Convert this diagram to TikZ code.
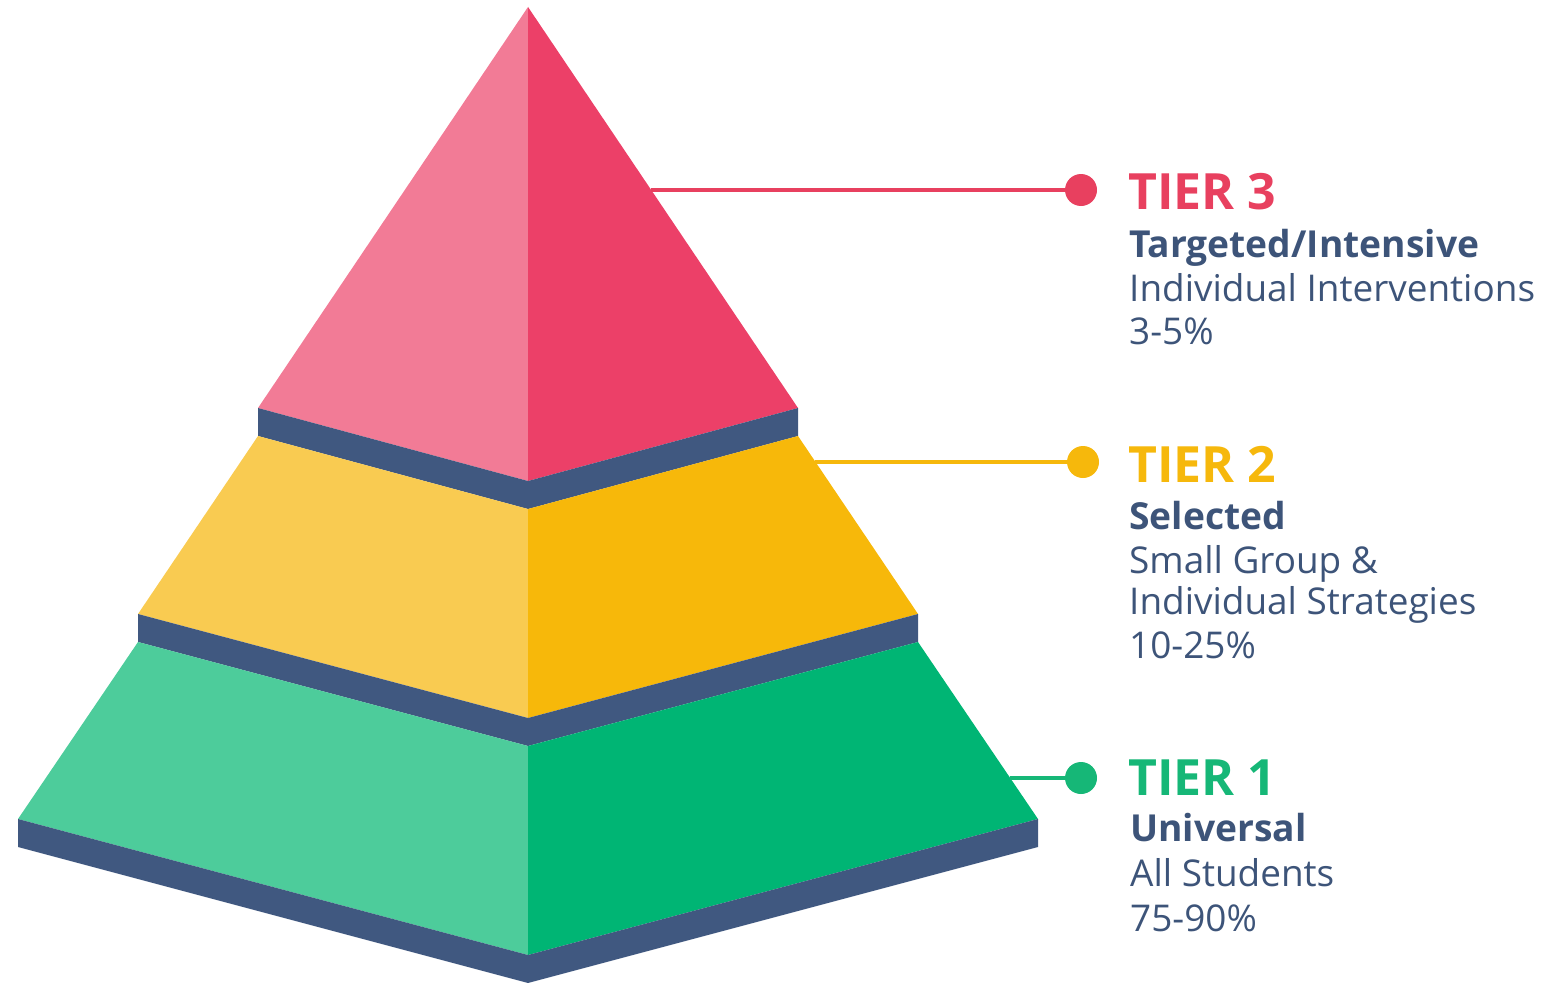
\documentclass[tikz,border=0pt]{standalone}
\usepackage{fontspec}
\setmainfont{Open Sans}
\definecolor{pinkL}{HTML}{F27B96}
\definecolor{pinkR}{HTML}{EC4068}
\definecolor{yelL}{HTML}{F9CB51}
\definecolor{yelR}{HTML}{F7B80A}
\definecolor{grnL}{HTML}{4DCC9B}
\definecolor{grnR}{HTML}{00B574}
\definecolor{ledge}{HTML}{405880}
\definecolor{navy}{HTML}{3D5479}
\definecolor{tpink}{HTML}{E8405F}
\definecolor{tyel}{HTML}{F6B80C}
\definecolor{tgrn}{HTML}{16B777}
\tikzset{
  conn/.style={line width=4.5pt},
  dotnode/.style={circle,inner sep=0pt,minimum size=32pt,fill=#1},
  tiertitle/.style={anchor=base west,inner sep=0pt,font=\fontsize{50}{60}\selectfont\bfseries,text=#1},
  tierbold/.style={anchor=base west,inner sep=0pt,font=\fontsize{37.2}{44}\selectfont\bfseries,text=navy},
  tiertext/.style={anchor=base west,inner sep=0pt,font=\fontsize{36.9}{44}\selectfont,text=navy}
}
\begin{document}
\begin{tikzpicture}[x=1pt,y=-1pt]
\useasboundingbox (0,0) rectangle (1546,982);
% Tier 3 (top)
\fill[pinkL] (528,7) -- (258,408) -- (528,481) -- cycle;
\fill[pinkR] (528,7) -- (798,408) -- (528,481) -- cycle;
\fill[ledge] (258,408) -- (528,481) -- (798,408) -- (798,436) -- (528,509) -- (258,436) -- cycle;
% Tier 2
\fill[yelL] (258,436) -- (138,614) -- (528,718) -- (528,509) -- cycle;
\fill[yelR] (798,436) -- (918,614) -- (528,718) -- (528,509) -- cycle;
\fill[ledge] (138,614) -- (528,718) -- (918,614) -- (918,642) -- (528,746) -- (138,642) -- cycle;
% Tier 1
\fill[grnL] (138,642) -- (18,819) -- (528,955) -- (528,746) -- cycle;
\fill[grnR] (918,642) -- (1038,819) -- (528,955) -- (528,746) -- cycle;
\fill[ledge] (18,819) -- (528,955) -- (1038,819) -- (1038,847) -- (528,983) -- (18,847) -- cycle;

% connectors
\coordinate (e3) at (651,190);
\coordinate (e2) at (815,462);
\coordinate (e1) at (1010,778);
\node[dotnode=tpink] (d3) at (1081,190) {};
\node[dotnode=tyel] (d2) at (1083,462) {};
\node[dotnode=tgrn] (d1) at (1081,778) {};
\draw[conn,tpink] (e3) -- (d3.center);
\draw[conn,tyel] (e2) -- (d2.center);
\draw[conn,tgrn] (e1) -- (d1.center);

% texts tier 3
\node[tiertitle=tpink] (t3) at (1128,209) {TIER 3};
\node[tierbold] (t3a) at (1129,257) {Targeted/Intensive};
\node[tiertext] (t3b) at (1129,301) {Individual Interventions};
\node[tiertext] (t3c) at (1129,344) {3-5\%};
% tier 2
\node[tiertitle=tyel] (t2) at (1128,482) {TIER 2};
\node[tierbold] (t2a) at (1129,529) {Selected};
\node[tiertext] (t2b) at (1129,573) {Small Group \&};
\node[tiertext] (t2c) at (1129,614) {Individual Strategies};
\node[tiertext] (t2d) at (1129,658) {10-25\%};
% tier 1
\node[tiertitle=tgrn] (t1) at (1128,795) {TIER 1};
\node[tierbold] (t1a) at (1130,841) {Universal};
\node[tiertext] (t1b) at (1130,886) {All Students};
\node[tiertext] (t1c) at (1130,931) {75-90\%};
\end{tikzpicture}
\end{document}
